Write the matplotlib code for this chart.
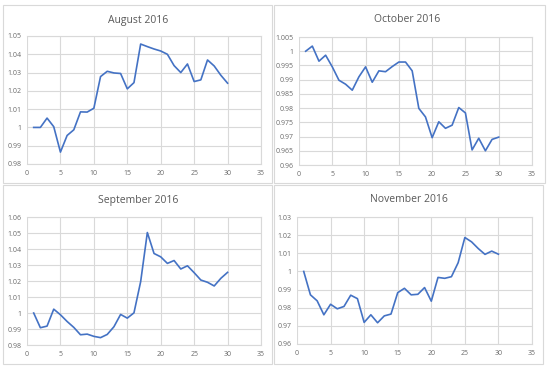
import matplotlib
matplotlib.use("Agg")
import matplotlib.pyplot as plt
from matplotlib.patches import Rectangle
import numpy as np

plt.rcParams['font.family'] = ['Open Sans', 'DejaVu Sans']

days = list(range(1, 31))

aug = [1.000, 1.000, 1.0051, 1.0004, 0.9865, 0.9956, 0.9987, 1.0085, 1.0084, 1.0105,
       1.0278, 1.0307, 1.0298, 1.0295, 1.0211, 1.0245, 1.0456, 1.0442, 1.0429, 1.0418,
       1.0400, 1.0338, 1.0300, 1.0347, 1.0251, 1.0260, 1.0369, 1.0336, 1.0285, 1.0242]

octo = [1.000, 1.0018, 0.9965, 0.9986, 0.9945, 0.9898, 0.9884, 0.9863, 0.9910, 0.9945,
        0.9891, 0.9931, 0.9928, 0.9946, 0.9962, 0.9962, 0.9931, 0.9799, 0.9769, 0.9696,
        0.9752, 0.9729, 0.9740, 0.9802, 0.9783, 0.9653, 0.9694, 0.9650, 0.9690, 0.9698]

sep = [1.000, 0.9908, 0.9918, 1.0024, 0.9989, 0.9947, 0.9910, 0.9864, 0.9868, 0.9854,
       0.9846, 0.9866, 0.9914, 0.9991, 0.9968, 1.0001, 1.0196, 1.0503, 1.0372, 1.0351,
       1.0310, 1.0328, 1.0275, 1.0295, 1.0252, 1.0206, 1.0192, 1.0169, 1.0217, 1.0254]

nov = [1.000, 0.9871, 0.9838, 0.9761, 0.9819, 0.9794, 0.9807, 0.9869, 0.9850, 0.9719,
       0.9761, 0.9717, 0.9755, 0.9765, 0.9883, 0.9907, 0.9871, 0.9874, 0.9911, 0.9836,
       0.9967, 0.9962, 0.9971, 1.0048, 1.0187, 1.0163, 1.0126, 1.0094, 1.0112, 1.0095]

titles = ["August 2016", "October 2016", "September 2016", "November 2016"]
series = [aug, octo, sep, nov]
yticks = [
    (np.arange(0.98, 1.0501, 0.01), ["0.98", "0.99", "1", "1.01", "1.02", "1.03", "1.04", "1.05"]),
    (np.arange(0.96, 1.00501, 0.005), ["0.96", "0.965", "0.97", "0.975", "0.98", "0.985",
                                       "0.99", "0.995", "1", "1.005"]),
    (np.arange(0.98, 1.0601, 0.01), ["0.98", "0.99", "1", "1.01", "1.02", "1.03", "1.04",
                                     "1.05", "1.06"]),
    (np.arange(0.96, 1.0301, 0.01), ["0.96", "0.97", "0.98", "0.99", "1", "1.01", "1.02", "1.03"]),
]
xticks = [0, 5, 10, 15, 20, 25, 30, 35]

W, H = 550, 370
fig = plt.figure(figsize=(5.5, 3.7), dpi=100)

# panel frames (pixels: x0, y0, x1, y1)
frames = [(3, 5, 272, 183), (274, 5, 545, 183), (3, 185, 272, 364), (274, 185, 543, 364)]
for x0, y0, x1, y1 in frames:
    fig.patches.append(Rectangle((x0 / W, 1 - y1 / H), (x1 - x0) / W, (y1 - y0) / H,
                                 transform=fig.transFigure, fill=False,
                                 edgecolor="#D9D9D9", linewidth=0.8))

# plot areas in pixels (left, top, right, bottom)
areas = [(27, 36, 261, 164), (299, 37, 532, 165), (27, 217, 261, 345), (297, 217, 532, 344)]
title_pos = [(138, 20), (407, 20), (138, 200), (409, 200)]

grey = "#6b6b6b"
for k in range(4):
    l, t, r, b = areas[k]
    ax = fig.add_axes([l / W, 1 - b / H, (r - l) / W, (b - t) / H])
    ax.plot(days, series[k], color="#4472C4", linewidth=1.2)
    ticks, labels = yticks[k]
    ax.set_ylim(ticks[0], ticks[-1])
    ax.set_yticks(ticks)
    ax.set_yticklabels(labels)
    ax.set_xlim(0, 35)
    ax.set_xticks(xticks)
    ax.grid(True, color="#D9D9D9", linewidth=0.8)
    ax.set_axisbelow(True)
    for s in ax.spines.values():
        s.set_visible(False)
    for side in ["bottom", "right", "top"]:
        ax.spines[side].set_visible(True)
        ax.spines[side].set_color("#D9D9D9")
    ax.tick_params(length=0, labelsize=5, labelcolor=grey, pad=4)
    tx, ty = title_pos[k]
    fig.text(tx / W, 1 - ty / H, titles[k], ha="center", va="center",
             fontsize=7.5, color="#595959")

fig.savefig("out.png", dpi=100)
